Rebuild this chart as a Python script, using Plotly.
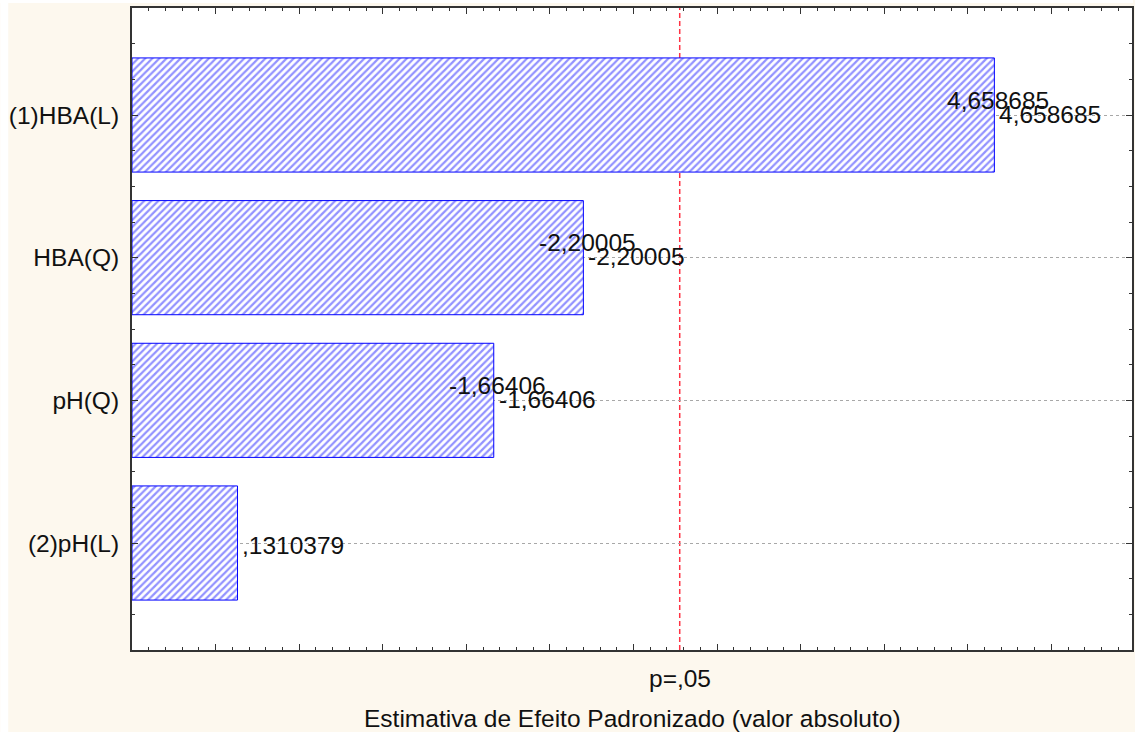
import plotly.graph_objects as go

# Pareto of standardized effects
factors = ["(1)HBA(L)", "HBA(Q)", "pH(Q)", "(2)pH(L)"]
effects = [4.658685, -2.20005, -1.66406, 0.1310379]
doubled_label = [True, True, True, False]
t_crit = 2.776445          # p = .05 reference line
x_min, x_max = -0.5, 5.482
x_title = "Estimativa de Efeito Padronizado (valor absoluto)"
p_label = "p=,05"

FONT = "Liberation Sans, Arial, sans-serif"
FS = 24.5
INK = "#111111"
AXIS = "#333333"


def fmt(v):
    s = f"{v:.7g}"
    s = s.replace("-0.", "-.") if s.startswith("-0.") else s
    s = s[1:] if s.startswith("0.") else s
    return s.replace(".", ",")


pos = list(range(len(factors)))
absval = [abs(v) for v in effects]

fig = go.Figure()
fig.add_trace(go.Bar(
    y=pos,
    x=[a - x_min for a in absval],
    base=x_min,
    orientation="h",
    width=0.8,
    marker=dict(
        color="white",
        line=dict(color="#0000ff", width=1),
        pattern=dict(shape="/", fgcolor="#2525ff", bgcolor="white",
                     size=5, solidity=0.45),
    ),
    hoverinfo="skip",
))

annotations = []
for p, a, v, dbl in zip(pos, absval, effects, doubled_label):
    txt = fmt(v)
    if dbl:
        annotations.append(dict(x=a, y=p, xref="x", yref="y", text=txt,
                                showarrow=False, xanchor="center", yanchor="middle",
                                xshift=4, yshift=15,
                                font=dict(family=FONT, size=FS, color=INK)))
    annotations.append(dict(x=a, y=p, xref="x", yref="y", text=txt,
                            showarrow=False, xanchor="left", yanchor="middle",
                            xshift=3, yshift=1 if dbl else -2,
                            font=dict(family=FONT, size=FS, color=INK)))

annotations.append(dict(x=t_crit, y=0, xref="x", yref="paper", text=p_label,
                        showarrow=False, xanchor="center", yanchor="middle",
                        yshift=-28, font=dict(family=FONT, size=FS, color=INK)))
annotations.append(dict(x=0.5, y=0, xref="paper", yref="paper", text=x_title,
                        showarrow=False, xanchor="center", yanchor="middle",
                        yshift=-68, font=dict(family=FONT, size=FS, color=INK)))

shapes = [
    dict(type="line", xref="x", yref="paper", x0=t_crit, x1=t_crit, y0=0, y1=1,
         line=dict(color="#ff3344", width=1.5, dash="5px,3px"), layer="below"),
    # white margins at the top and left edge of the page
    dict(type="rect", xref="paper", yref="paper", x0=-132 / 1002, x1=-124 / 1002,
         y0=-82 / 642, y1=1 + 8 / 642, fillcolor="white", line=dict(width=0),
         layer="below"),
    dict(type="rect", xref="paper", yref="paper", x0=-132 / 1002, x1=1 + 1 / 1002,
         y0=1 + 5 / 642, y1=1 + 8 / 642, fillcolor="white", line=dict(width=0),
         layer="below"),
]

fig.update_layout(
    width=1135, height=732, autosize=False,
    margin=dict(l=132, r=1, t=8, b=82, pad=0),
    paper_bgcolor="#fdf8ee",
    plot_bgcolor="white",
    showlegend=False,
    annotations=annotations,
    shapes=shapes,
    font=dict(family=FONT, size=FS, color=INK),
)

fig.update_xaxes(
    range=[x_min, x_max], showline=True, linecolor=AXIS, linewidth=2,
    mirror="ticks", ticks="inside", ticklen=6, tickwidth=1, tickcolor=AXIS,
    tick0=0, dtick=0.5, showticklabels=False, showgrid=False, zeroline=False,
    minor=dict(ticks="inside", ticklen=3, dtick=0.1, tickcolor=AXIS, showgrid=False),
)
fig.update_yaxes(
    range=[3.75, -0.75], showline=True, linecolor=AXIS, linewidth=2,
    mirror="ticks", ticks="inside", ticklen=6, tickwidth=1, tickcolor=AXIS,
    tickmode="array", tickvals=pos, ticktext=factors, ticklabelstandoff=6,
    tickfont=dict(family=FONT, size=FS, color=INK),
    showgrid=True, gridcolor="#a8a8a8", gridwidth=1, griddash="dot", zeroline=False,
    minor=dict(ticks="inside", ticklen=3, dtick=0.25, tick0=0, tickcolor=AXIS,
               showgrid=False),
)

fig.write_html("out.html")
